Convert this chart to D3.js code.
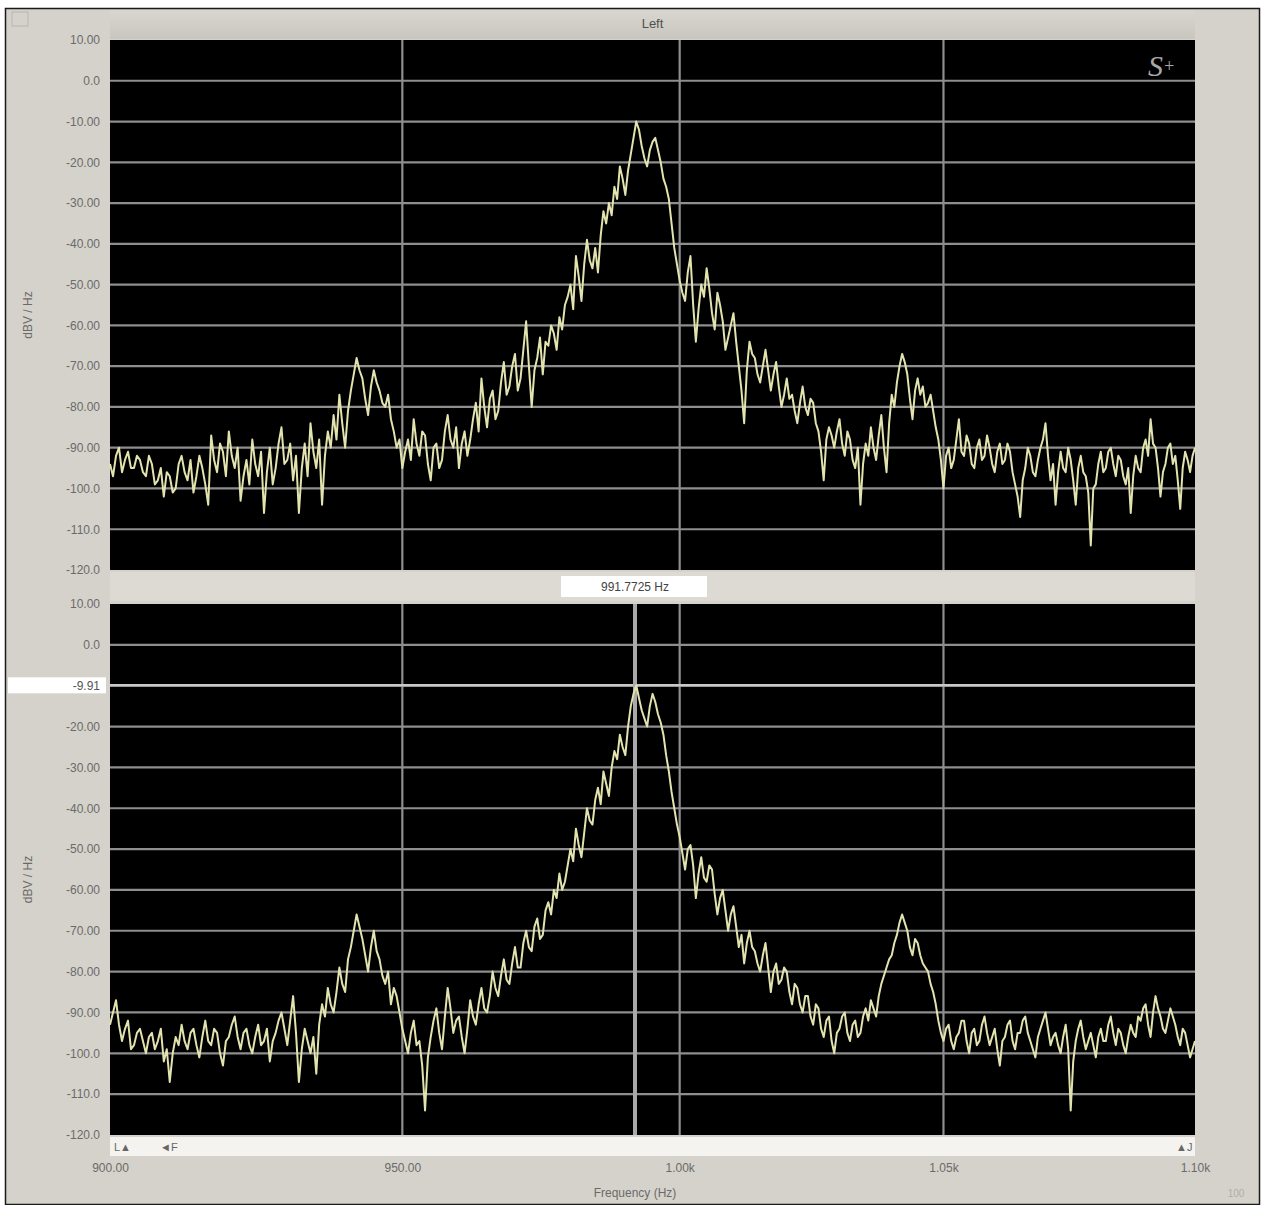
<!DOCTYPE html>
<html>
<head>
<meta charset="utf-8">
<script src="https://cdn.jsdelivr.net/npm/d3@7"></script>
<style>
  html, body { margin: 0; padding: 0; background: #ffffff; }
  svg { display: block; font-family: "Liberation Sans", Arial, sans-serif; }
</style>
</head>
<body>
<svg id="chart" width="1261" height="1205"></svg>
<script>
// FFT bin grid of the analyser (Hz)
const binStart = 900;
const binWidth = 0.5;

// Left channel spectrum, upper pane (dBV / Hz per bin, 900 Hz .. 1100 Hz, one row = 10 Hz)
const levelsUpper = [
  -94, -97, -92, -90, -96, -93, -91, -95, -95, -92, -93, -96, -97, -92, -94, -99, -98, -95, -102, -96,
  -97, -101, -100, -94, -92, -96, -98, -93, -101, -97, -92, -95, -99, -104, -87, -93, -96, -89, -91, -97,
  -86, -92, -95, -90, -103, -97, -93, -99, -88, -94, -97, -91, -106, -96, -90, -99, -95, -89, -85, -94,
  -93, -89, -98, -92, -106, -95, -89, -97, -84, -91, -95, -88, -104, -92, -86, -90, -82, -88, -77, -84,
  -90, -81, -76, -72, -68, -71, -73, -78, -82, -75, -71, -74, -76, -79, -80, -77, -83, -86, -90, -88,
  -95, -91, -88, -93, -83, -89, -92, -86, -87, -94, -98, -90, -89, -95, -93, -86, -82, -88, -90, -85,
  -95, -89, -86, -92, -88, -83, -79, -86, -73, -80, -85, -78, -76, -83, -81, -74, -69, -77, -75, -70,
  -67, -76, -73, -66, -59, -70, -80, -71, -68, -63, -72, -64, -65, -60, -62, -66, -58, -61, -55, -53,
  -50, -56, -43, -48, -54, -45, -39, -44, -46, -41, -47, -38, -32, -35, -30, -33, -26, -29, -21, -24,
  -28, -22, -18, -14, -10, -12, -16, -19, -21, -17, -15, -14, -17, -20, -24, -26, -29, -35, -41, -45,
  -49, -52, -54, -47, -43, -55, -64, -56, -50, -53, -46, -51, -57, -61, -52, -55, -59, -66, -63, -60,
  -57, -64, -70, -76, -84, -71, -64, -67, -68, -72, -74, -70, -66, -71, -76, -72, -69, -75, -80, -77,
  -73, -78, -77, -81, -84, -79, -75, -80, -82, -78, -79, -84, -86, -91, -98, -88, -85, -87, -90, -86,
  -83, -89, -92, -86, -88, -93, -95, -90, -104, -94, -89, -92, -85, -90, -93, -87, -82, -90, -96, -84,
  -77, -80, -74, -70, -67, -69, -72, -78, -83, -76, -73, -77, -75, -80, -79, -77, -81, -85, -88, -93,
  -100, -92, -90, -95, -93, -88, -83, -91, -92, -87, -89, -94, -95, -90, -88, -93, -92, -87, -90, -94,
  -96, -91, -89, -94, -93, -89, -91, -96, -99, -102, -107, -98, -95, -90, -92, -96, -97, -93, -90, -88,
  -84, -92, -98, -94, -104, -96, -91, -95, -96, -90, -93, -98, -104, -95, -92, -96, -97, -101, -114, -100,
  -99, -94, -91, -96, -95, -91, -90, -94, -97, -92, -93, -97, -99, -95, -106, -97, -92, -95, -96, -90,
  -88, -92, -83, -89, -90, -95, -102, -96, -94, -90, -89, -94, -92, -98, -105, -95, -91, -93, -96, -92,
  -90
];

// Same channel, lower pane with cursor readout
const levelsLower = [
  -93, -90, -87, -93, -97, -94, -92, -99, -98, -95, -94, -97, -100, -96, -95, -99, -97, -94, -102, -99,
  -107, -100, -96, -98, -93, -97, -99, -95, -94, -98, -101, -96, -92, -97, -98, -94, -95, -100, -103, -97,
  -96, -93, -91, -96, -99, -95, -94, -98, -100, -96, -93, -98, -97, -94, -102, -97, -95, -92, -90, -94,
  -98, -92, -86, -95, -107, -99, -94, -97, -100, -96, -105, -93, -88, -91, -84, -88, -90, -85, -79, -83,
  -85, -77, -74, -70, -66, -69, -72, -76, -80, -74, -70, -75, -77, -81, -83, -80, -88, -84, -86, -90,
  -94, -97, -100, -95, -92, -98, -97, -103, -114, -101, -96, -92, -89, -95, -99, -91, -84, -89, -95, -92,
  -91, -96, -100, -94, -87, -91, -93, -88, -84, -89, -90, -86, -80, -84, -86, -81, -77, -82, -83, -78,
  -74, -79, -79, -73, -70, -74, -75, -69, -67, -72, -71, -65, -63, -66, -60, -62, -56, -60, -58, -54,
  -50, -53, -45, -49, -52, -46, -40, -43, -44, -38, -35, -39, -31, -34, -37, -30, -26, -28, -22, -25,
  -27, -20, -15, -12, -9.91, -13, -16, -18, -20, -15, -12, -14, -17, -19, -22, -27, -31, -36, -40, -44,
  -47, -51, -55, -50, -49, -54, -62, -56, -52, -57, -58, -54, -55, -61, -66, -62, -60, -65, -70, -66,
  -64, -69, -74, -71, -78, -73, -70, -74, -75, -78, -80, -76, -73, -79, -85, -80, -78, -83, -82, -79,
  -80, -85, -88, -83, -84, -88, -90, -86, -86, -91, -93, -88, -89, -94, -96, -92, -91, -97, -100, -95,
  -94, -91, -90, -95, -97, -93, -92, -96, -95, -91, -89, -92, -87, -89, -91, -86, -83, -81, -79, -77,
  -76, -73, -71, -68, -66, -68, -70, -74, -76, -72, -73, -76, -78, -79, -80, -83, -85, -88, -92, -95,
  -97, -94, -93, -97, -99, -96, -95, -92, -92, -97, -100, -95, -94, -98, -97, -93, -91, -95, -98, -96,
  -94, -99, -103, -97, -96, -93, -92, -97, -99, -95, -95, -92, -91, -95, -97, -99, -101, -96, -94, -92,
  -90, -94, -98, -96, -95, -98, -100, -96, -93, -99, -114, -102, -97, -94, -92, -96, -99, -97, -95, -98,
  -101, -96, -94, -97, -97, -93, -91, -95, -98, -94, -95, -98, -100, -96, -93, -95, -96, -91, -92, -89,
  -88, -93, -96, -90, -86, -89, -91, -94, -95, -92, -89, -91, -93, -96, -98, -94, -95, -98, -101, -99,
  -97
];

// Axis ticks
const levelTicks = [10, 0, -10, -20, -30, -40, -50, -60, -70, -80, -90, -100, -110, -120];
const levelTickLabels = ["10.00", "0.0", "-10.00", "-20.00", "-30.00", "-40.00", "-50.00",
  "-60.00", "-70.00", "-80.00", "-90.00", "-100.0", "-110.0", "-120.0"];
const freqTicks = [900, 950, 1000, 1050, 1100];
const freqTickLabels = ["900.00", "950.00", "1.00k", "1.05k", "1.10k"];
const freqGrid = [950, 1000, 1050];

// Cursor readout
const cursorFreq = 991.7725;
const cursorLevel = -9.91;

const svg = d3.select("#chart");
const panelFill = "#d5d2cb";
const traceColor = "#e2e3ae";
const gridColor = "#8e8e8e";

// window panel
svg.append("rect").attr("x", 0).attr("y", 0).attr("width", 1261).attr("height", 1205).attr("fill", "#ffffff");
svg.append("rect").attr("x", 5.5).attr("y", 8.5).attr("width", 1254).attr("height", 1196)
  .attr("fill", panelFill).attr("stroke", "#1a1a1a").attr("stroke-width", 1.5);

// title strip
const grad = svg.append("defs").append("linearGradient").attr("id", "strip").attr("x1", 0).attr("x2", 0).attr("y1", 0).attr("y2", 1);
grad.append("stop").attr("offset", "0%").attr("stop-color", "#d9d6cf");
grad.append("stop").attr("offset", "100%").attr("stop-color", "#c9c6bf");
svg.append("rect").attr("x", 110).attr("y", 10).attr("width", 1085).attr("height", 29).attr("fill", "url(#strip)");
svg.append("rect").attr("x", 12).attr("y", 12).attr("width", 16).attr("height", 14)
  .attr("fill", "none").attr("stroke", "#b8b5ae").attr("stroke-width", 1);

const x = d3.scaleLog().domain([900, 1100]).range([110, 1195]);

function pane(top, bottom, levels, withCursor) {
  const y = d3.scaleLinear().domain([-120, 10]).range([bottom, top]);
  const g = svg.append("g");
  g.append("rect").attr("x", x.range()[0]).attr("y", top).attr("width", x.range()[1] - x.range()[0])
    .attr("height", bottom - top).attr("fill", "#000000");

  // horizontal grid
  g.selectAll(null).data(levelTicks.slice(1, -1)).enter().append("line")
    .attr("x1", x.range()[0]).attr("x2", x.range()[1])
    .attr("y1", d => y(d)).attr("y2", d => y(d))
    .attr("stroke", gridColor).attr("stroke-width", 2.2);
  // vertical grid
  g.selectAll(null).data(freqGrid).enter().append("line")
    .attr("x1", d => x(d)).attr("x2", d => x(d))
    .attr("y1", top).attr("y2", bottom)
    .attr("stroke", gridColor).attr("stroke-width", 2.2);

  if (withCursor) {
    g.append("line").attr("x1", x.range()[0]).attr("x2", x.range()[1])
      .attr("y1", y(cursorLevel)).attr("y2", y(cursorLevel))
      .attr("stroke", "#c8c8c8").attr("stroke-width", 2.5);
    g.append("line").attr("x1", x(cursorFreq)).attr("x2", x(cursorFreq))
      .attr("y1", top).attr("y2", bottom)
      .attr("stroke", "#a9a9a9").attr("stroke-width", 4);
  }

  // spectrum trace
  const line = d3.line().x((d, i) => x(binStart + i * binWidth)).y(d => y(d));
  g.append("path").datum(levels).attr("d", line)
    .attr("fill", "none").attr("stroke", traceColor).attr("stroke-width", 2)
    .attr("stroke-linejoin", "round");

  // level axis labels
  const axis = d3.axisLeft(y).tickValues(levelTicks).tickSize(0).tickPadding(10)
    .tickFormat((d, i) => levelTickLabels[i]);
  const ax = svg.append("g").attr("transform", `translate(${x.range()[0]},0)`).call(axis);
  ax.select(".domain").remove();
  ax.selectAll("text").attr("fill", "#6a6a6a").style("font-size", "12px");
  if (withCursor) {
    ax.selectAll(".tick").filter(d => d === -10).remove();
    svg.append("rect").attr("x", 8).attr("y", y(cursorLevel) - 8).attr("width", 98).attr("height", 16)
      .attr("fill", "#ffffff");
    svg.append("text").attr("x", 100).attr("y", y(cursorLevel) + 4.5).attr("text-anchor", "end")
      .attr("fill", "#555").style("font-size", "12px").text(cursorLevel.toFixed(2));
  }

  svg.append("text").attr("transform", `translate(32,${(top + bottom) / 2 + 10}) rotate(-90)`)
    .attr("text-anchor", "middle").attr("fill", "#6a6a6a").style("font-size", "12px").text("dBV / Hz");
  return y;
}

pane(40, 570, levelsUpper, false);
pane(604, 1135, levelsLower, true);

// title
svg.append("text").attr("x", (x.range()[0] + x.range()[1]) / 2).attr("y", 28).attr("text-anchor", "middle")
  .attr("fill", "#505050").style("font-size", "13px").text("Left");

// logo
const logo = svg.append("text").attr("x", 1148).attr("y", 76).attr("fill", "#a8a8a8")
  .style("font-family", "'Liberation Serif', 'DejaVu Serif', serif").style("font-style", "italic");
logo.append("tspan").style("font-size", "30px").text("S");
logo.append("tspan").style("font-size", "18px").attr("dy", -4).text("+");

// strip between panes with cursor frequency readout
svg.append("rect").attr("x", 110).attr("y", 572).attr("width", 1085).attr("height", 29).attr("fill", "#dddad4");
svg.append("rect").attr("x", 561).attr("y", 576).attr("width", 146).attr("height", 21).attr("fill", "#ffffff");
svg.append("text").attr("x", x(cursorFreq)).attr("y", 591).attr("text-anchor", "middle")
  .attr("fill", "#444").style("font-size", "12px").text(cursorFreq.toFixed(4) + " Hz");

// scroll strip under the lower pane
svg.append("rect").attr("x", 110).attr("y", 1137).attr("width", 1085).attr("height", 19).attr("fill", "#f4f3ef");
svg.append("text").attr("x", 114).attr("y", 1151).attr("fill", "#666").style("font-size", "11px").text("L▲");
svg.append("text").attr("x", 160).attr("y", 1151).attr("fill", "#666").style("font-size", "11px").text("◄F");
svg.append("text").attr("x", 1176).attr("y", 1151).attr("fill", "#666").style("font-size", "11px").text("▲J");

// frequency axis labels
const xAxis = d3.axisBottom(x).tickValues(freqTicks).tickSize(0).tickPadding(0)
  .tickFormat((d, i) => freqTickLabels[i]);
const xa = svg.append("g").attr("transform", "translate(0,1163)").call(xAxis);
xa.select(".domain").remove();
xa.selectAll("text").attr("fill", "#6a6a6a").style("font-size", "12px");

svg.append("text").attr("x", 635).attr("y", 1197).attr("text-anchor", "middle")
  .attr("fill", "#6a6a6a").style("font-size", "12px").text("Frequency (Hz)");
svg.append("text").attr("x", 1236).attr("y", 1197).attr("text-anchor", "middle")
  .attr("fill", "#b0aea8").style("font-size", "10px").text("100");
</script>
</body>
</html>
